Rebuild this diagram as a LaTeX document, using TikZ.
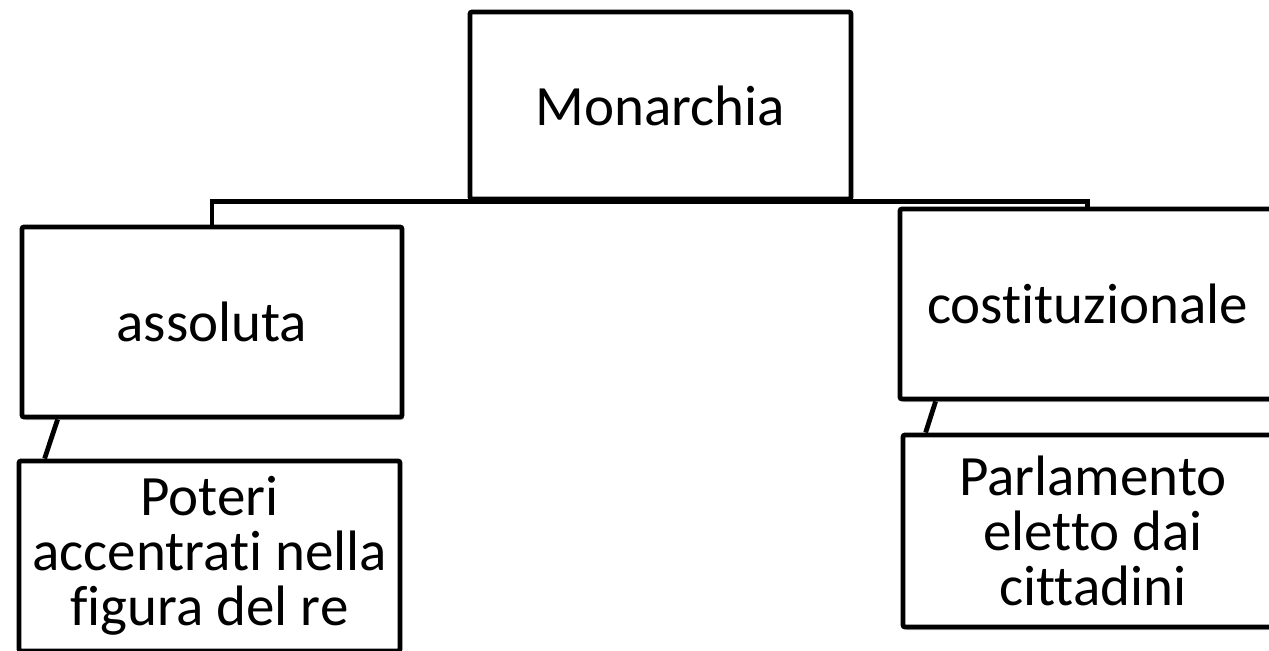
\documentclass[tikz,border=0pt]{standalone}
\usepackage{fontspec}
\setmainfont{Carlito}[Ligatures=NoCommon]
\usetikzlibrary{shadows}
\tikzset{
  box/.style={draw, line width=2.4pt, fill=white, rounded corners=1pt, align=center,
    inner sep=0pt, font=\fontsize{28.5}{27.5}\selectfont,
    drop shadow={shadow xshift=1pt, shadow yshift=-1.5pt, opacity=0.25, fill=black}},
  link/.style={line width=2.4pt},
}
\begin{document}
\begin{tikzpicture}[x=0.5pt,y=-0.5pt]
  \useasboundingbox (0,0) rectangle (1269,650);
  \clip (0,0) rectangle (1269,650);

  % the boxes
  \node[box, minimum width=190.5pt, minimum height=93.5pt] (monarchia) at (660.5,105.5) {Monarchia};
  \node[box, minimum width=190pt, minimum height=95pt] (assoluta) at (212,322) {assoluta};
  \node[box, minimum width=187.5pt, minimum height=95pt] (costituzionale) at (1087.5,304) {costituzionale};
  \node[box, minimum width=190.5pt, minimum height=95pt] (poteri) at (209.5,556)
    {Poteri\\accentrati nella\\figura del re};
  \node[box, minimum width=190pt, minimum height=96pt] (parlamento) at (1093,531)
    {Parlamento\\eletto dai\\cittadini};

  % links
  \draw[link] (assoluta.north) |- (monarchia.south) -| (costituzionale.north);
  \draw[link] ([xshift=19pt]assoluta.south west) -- ([xshift=14pt]poteri.north west);
  \draw[link] ([xshift=19pt]costituzionale.south west) -- ([xshift=12.5pt]parlamento.north west);
\end{tikzpicture}
\end{document}
